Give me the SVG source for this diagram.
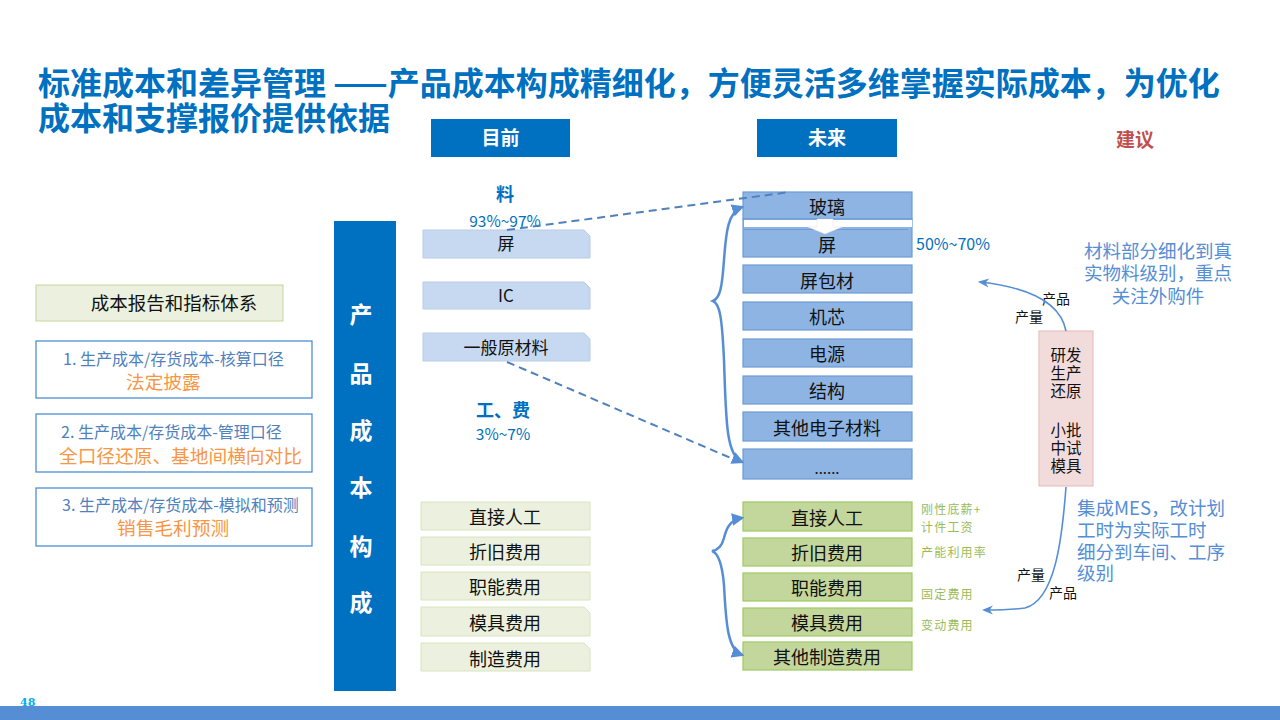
<svg xmlns="http://www.w3.org/2000/svg" width="1280" height="720" viewBox="0 0 1280 720">
<defs>
<style>
text{font-family:"Noto Sans CJK SC","Microsoft YaHei",sans-serif;}
.title{font-size:32px;font-weight:bold;fill:#0070C0;}
.hdr{fill:#0070C0;}
.hdrt{font-size:19px;font-weight:bold;fill:#fff;text-anchor:middle;}
.lb{fill:#C6D9F1;stroke:#B9CDE5;stroke-width:1;}
.lg{fill:#EBF1DE;stroke:#D7E4BD;stroke-width:1;}
.rb{fill:#8EB4E3;stroke:#6C9BD6;stroke-width:1.2;}
.rg{fill:#C3D69B;stroke:#9BCB5F;stroke-width:1.2;}
.bt{font-size:17px;fill:#111;text-anchor:middle;}
.bt2{font-size:18px;fill:#111;text-anchor:middle;}
.blue{fill:#0070C0;}
.note{font-size:12px;fill:#9BBB59;letter-spacing:1.2px;}
.sug{font-size:18.5px;fill:#558ED5;}
.small{font-size:14px;fill:#111;}
.lt{font-size:16px;fill:#4F81BD;}
.ot{font-size:18.7px;fill:#F79646;}
.dash{fill:none;stroke:#4F81BD;stroke-width:2;stroke-dasharray:8,5;}
.brace{fill:none;stroke:#558ED5;stroke-width:2.5;}
.curve{fill:none;stroke:#558ED5;stroke-width:1.6;}
</style>
<marker id="ah" viewBox="0 0 10 10" refX="8" refY="5" markerWidth="5" markerHeight="5" orient="auto-start-reverse" markerUnits="strokeWidth">
<path d="M0,0 L10,5 L0,10 Z" fill="#558ED5"/>
</marker>
<marker id="ah2" viewBox="0 0 10 10" refX="8" refY="5" markerWidth="7" markerHeight="7" orient="auto-start-reverse" markerUnits="strokeWidth">
<path d="M0,1 L10,5 L0,9 L3,5 Z" fill="#558ED5"/>
</marker>
</defs>
<rect width="1280" height="720" fill="#fff"/>

<g id="title">
<text class="title" x="38" y="95">标准成本和差异管理 ——产品成本构成精细化，方便灵活多维掌握实际成本，为优化</text>
<text class="title" x="38" y="130">成本和支撑报价提供依据</text>
</g>

<g id="hdr-now"><rect class="hdr" x="431" y="119" width="139" height="38"/><text class="hdrt" x="500.5" y="145">目前</text></g>
<g id="hdr-future"><rect class="hdr" x="757" y="119" width="140" height="38"/><text class="hdrt" x="827" y="145">未来</text></g>
<g id="hdr-suggest"><text x="1135" y="147" style="font-size:19px;font-weight:bold;fill:#C0504D;text-anchor:middle">建议</text></g>

<g id="mat-label">
<text x="505" y="201" style="font-size:18px;font-weight:bold;text-anchor:middle" class="blue">料</text>
<text x="505" y="227" style="font-size:15.5px;text-anchor:middle" class="blue">93%~97%</text>
</g>
<g id="lab-label">
<text x="503" y="417" style="font-size:18px;font-weight:bold;text-anchor:middle" class="blue">工、费</text>
<text x="503" y="440" style="font-size:15.5px;text-anchor:middle" class="blue">3%~7%</text>
</g>

<g id="bar">
<rect x="334" y="221" width="62" height="470" fill="#0070C0"/>
<g style="font-size:23px;font-weight:bold;fill:#fff;text-anchor:middle">
<text x="361" y="323">产</text><text x="361" y="382">品</text><text x="361" y="439">成</text><text x="361" y="496">本</text><text x="361" y="555">构</text><text x="361" y="611">成</text>
</g>
</g>

<g id="report">
<rect x="36" y="285" width="247" height="36" fill="#EBF1DE" stroke="#C3D69B"/>
<text x="174" y="310" style="font-size:18.5px;fill:#111;text-anchor:middle">成本报告和指标体系</text>
</g>
<g id="r1">
<rect x="36" y="341" width="276" height="57" fill="#fff" stroke="#3F86CF" stroke-width="1.2"/>
<text class="lt" x="63" y="365">1. 生产成本/存货成本-核算口径</text>
<text class="ot" x="126" y="389">法定披露</text>
</g>
<g id="r2">
<rect x="36" y="414" width="276" height="58" fill="#fff" stroke="#3F86CF" stroke-width="1.2"/>
<text class="lt" x="61" y="438">2. 生产成本/存货成本-管理口径</text>
<text class="ot" x="59" y="463">全口径还原、基地间横向对比</text>
</g>
<g id="r3">
<rect x="36" y="488" width="276" height="58" fill="#fff" stroke="#3F86CF" stroke-width="1.2"/>
<text class="lt" x="62" y="511">3. 生产成本/存货成本-模拟和预测</text>
<text class="ot" x="117" y="535">销售毛利预测</text>
</g>

<g id="now-ping"><path class="lb" d="M423,230 H584 L590,236 V258 H423 Z"/><text class="bt" x="506" y="250">屏</text></g>
<g id="now-ic"><path class="lb" d="M423,282 H584 L590,288 V309 H423 Z"/><text class="bt" x="506" y="302">IC</text></g>
<g id="now-raw"><path class="lb" d="M423,333 H584 L590,339 V361 H423 Z"/><text class="bt" x="506" y="354">一般原材料</text></g>

<g id="now-l1"><path class="lg" d="M421,502 H590 V530 H421 Z"/><text class="bt2" x="505" y="524">直接人工</text></g>
<g id="now-l2"><path class="lg" d="M421,537 H590 V565 H421 Z"/><text class="bt2" x="505" y="559">折旧费用</text></g>
<g id="now-l3"><path class="lg" d="M421,572 H590 V600 H421 Z"/><text class="bt2" x="505" y="594">职能费用</text></g>
<g id="now-l4"><path class="lg" d="M421,607 H584 L590,613 V636 H421 Z"/><text class="bt2" x="505" y="630">模具费用</text></g>
<g id="now-l5"><path class="lg" d="M421,643 H584 L590,649 V671 H421 Z"/><text class="bt2" x="505" y="666">制造费用</text></g>

<g id="f-glass"><rect class="rb" x="743" y="192" width="169" height="27"/><text class="bt2" x="827" y="214">玻璃</text></g>
<g id="f-ping">
<rect class="rb" x="743" y="219" width="169" height="38"/>
<rect x="744" y="220" width="168" height="7" fill="#fff"/>
<line x1="744" y1="229.5" x2="908" y2="229.5" stroke="#6C9BD6" stroke-width="1"/>
<path d="M817,219 H833 V227 H842 L825,234 L808,227 H817 Z" fill="#fff" stroke="#ddd" stroke-width="0.5"/>
<text class="bt2" x="827" y="252">屏</text>
</g>
<g id="f-pkg"><rect class="rb" x="743" y="265" width="169" height="28"/><text class="bt2" x="827" y="288">屏包材</text></g>
<g id="f-core"><rect class="rb" x="743" y="302" width="169" height="28"/><text class="bt2" x="827" y="324">机芯</text></g>
<g id="f-power"><rect class="rb" x="743" y="339" width="169" height="28"/><text class="bt2" x="827" y="361">电源</text></g>
<g id="f-struct"><rect class="rb" x="743" y="376" width="169" height="28"/><text class="bt2" x="827" y="398">结构</text></g>
<g id="f-elec"><rect class="rb" x="743" y="412" width="169" height="29"/><text class="bt2" x="827" y="435">其他电子材料</text></g>
<g id="f-etc"><rect class="rb" x="743" y="449" width="169" height="30"/><text class="bt2" x="827" y="474" style="font-size:15px">......</text></g>
<text x="916" y="250" style="font-size:16px" class="blue">50%~70%</text>

<g id="f-l1"><rect class="rg" x="743" y="502" width="169" height="29"/><text class="bt2" x="827" y="525">直接人工</text></g>
<g id="f-l2"><rect class="rg" x="743" y="538" width="169" height="28"/><text class="bt2" x="827" y="560">折旧费用</text></g>
<g id="f-l3"><rect class="rg" x="743" y="573" width="169" height="28"/><text class="bt2" x="827" y="595">职能费用</text></g>
<g id="f-l4"><rect class="rg" x="743" y="608" width="169" height="28"/><text class="bt2" x="827" y="630">模具费用</text></g>
<g id="f-l5"><rect class="rg" x="743" y="642" width="169" height="28"/><text class="bt2" x="827" y="664">其他制造费用</text></g>

<g id="notes">
<text class="note" x="921" y="514">刚性底薪+</text>
<text class="note" x="921" y="532">计件工资</text>
<text class="note" x="921" y="557">产能利用率</text>
<text class="note" x="921" y="599">固定费用</text>
<text class="note" x="921" y="630">变动费用</text>
</g>

<g id="rd">
<rect x="1039" y="331" width="54" height="155" fill="#F2DCDB" stroke="#E6B9B8"/>
<g style="font-size:15.5px;fill:#111;text-anchor:middle">
<text x="1066" y="361">研发</text><text x="1066" y="379">生产</text><text x="1066" y="397">还原</text>
<text x="1066" y="436">小批</text><text x="1066" y="454">中试</text><text x="1066" y="472">模具</text>
</g>
</g>

<g id="suggest1">
<text class="sug" x="1158" y="258" text-anchor="middle">材料部分细化到真</text>
<text class="sug" x="1158" y="280" text-anchor="middle">实物料级别，重点</text>
<text class="sug" x="1158" y="303" text-anchor="middle">关注外购件</text>
</g>
<g id="suggest2">
<text class="sug" x="1077" y="515">集成MES，改计划</text>
<text class="sug" x="1077" y="537">工时为实际工时</text>
<text class="sug" x="1077" y="559">细分到车间、工序</text>
<text class="sug" x="1077" y="580">级别</text>
</g>

<g id="curve-labels">
<text class="small" x="1042" y="304">产品</text>
<text class="small" x="1015" y="322">产量</text>
<text class="small" x="1017" y="580">产量</text>
<text class="small" x="1049" y="598">产品</text>
</g>

<g id="connectors">
<path class="dash" d="M507,230 L790,192"/>
<path class="dash" d="M507,362 L740,462"/>
<path class="brace" marker-start="url(#ah)" marker-end="url(#ah)" d="M742,207 C728,212 726,232 724,260 C722,288 720,298 713,301 C720,304 722,318 724,360 C726,420 726,455 742,462"/>
<path class="brace" marker-start="url(#ah)" marker-end="url(#ah)" d="M742,518 C729,520 726,530 724,538 C722,546 718,550 712,551 C718,553 722,562 724,585 C726,625 728,650 742,655"/>
<path class="curve" marker-end="url(#ah2)" d="M1066,331 C1060,300 1025,287 980,282"/>
<path class="curve" marker-end="url(#ah2)" d="M1066,487 C1062,540 1055,600 1025,608 C1010,610 998,610 984,610"/>
</g>

<g id="footer">
<rect x="0" y="706" width="1280" height="14" fill="#558ED5"/>
<text x="20" y="706" style="font-family:'DejaVu Serif',serif;font-size:11px;font-weight:bold;fill:#00B0F0">48</text>
</g>
</svg>
